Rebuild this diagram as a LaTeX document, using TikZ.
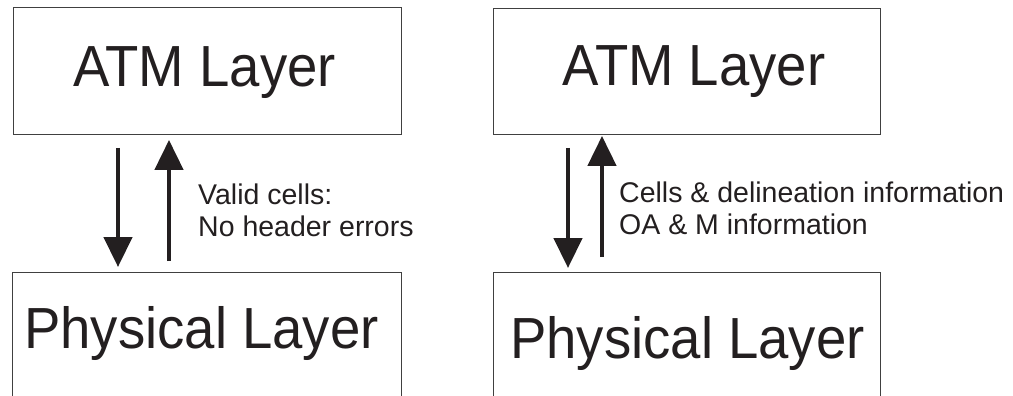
\documentclass[tikz,border=0pt]{standalone}
\usepackage{fontspec}
\setmainfont{Liberation Sans}
\newfontfamily\bigfont[FakeStretch=0.94]{Liberation Sans}
\usetikzlibrary{arrows.meta}
\definecolor{ink}{HTML}{231F20}
\begin{document}
\begin{tikzpicture}[x=1pt,y=-1pt,
  layerbox/.style={draw=black!75, line width=0.9pt, inner sep=0pt, anchor=north west},
  bigtext/.style={font=\bigfont\fontsize{58}{60}\selectfont, text=ink, inner sep=0pt, anchor=base},
  smalltext/.style={font=\fontsize{28.5}{32}\selectfont, text=ink, inner sep=0pt, align=left, anchor=base west},
  flow/.style={draw=ink, line width=4.5pt, -{Triangle[width=28pt,length=30pt]}}]
\useasboundingbox (0,0) rectangle (1013,396);
\clip (0,0) rectangle (1013,396);
% boxes
\node[layerbox, minimum width=388pt, minimum height=127pt] (atmL) at (13,7) {};
\node[layerbox, minimum width=389pt, minimum height=160pt] (phyL) at (12,272) {};
\node[layerbox, minimum width=387pt, minimum height=126pt] (atmR) at (493,8) {};
\node[layerbox, minimum width=387pt, minimum height=160pt] (phyR) at (493,272) {};
% texts
\node[bigtext] (atmLt) at (204.5,87) {ATM Layer};
\node[bigtext] (atmRt) at (694,85) {ATM Layer};
\node[bigtext] (phyLt) at (201.5,348) {Physical Layer};
\node[bigtext] (phyRt) at (687.5,358) {Physical Layer};
\node[smalltext] (lblL) at (198,236) {Valid cells:\\No header errors};
\node[smalltext] (lblR) at (619,234) {Cells \& delineation information\\OA \& M information};
% arrow columns
\coordinate (xa) at (118,0);
\coordinate (xb) at (169,0);
\coordinate (xc) at (568,0);
\coordinate (xd) at (602,0);
% arrows
\draw[flow] ([yshift=-13pt]atmL.south -| xa) -- ([yshift=5pt]phyL.north -| xa);
\draw[flow] ([yshift=11pt]phyL.north -| xb) -- ([yshift=-5pt]atmL.south -| xb);
\draw[flow] ([yshift=-13pt]atmR.south -| xc) -- ([yshift=4pt]phyR.north -| xc);
\draw[flow] ([yshift=15pt]phyR.north -| xd) -- ([yshift=-1pt]atmR.south -| xd);
\end{tikzpicture}
\end{document}
